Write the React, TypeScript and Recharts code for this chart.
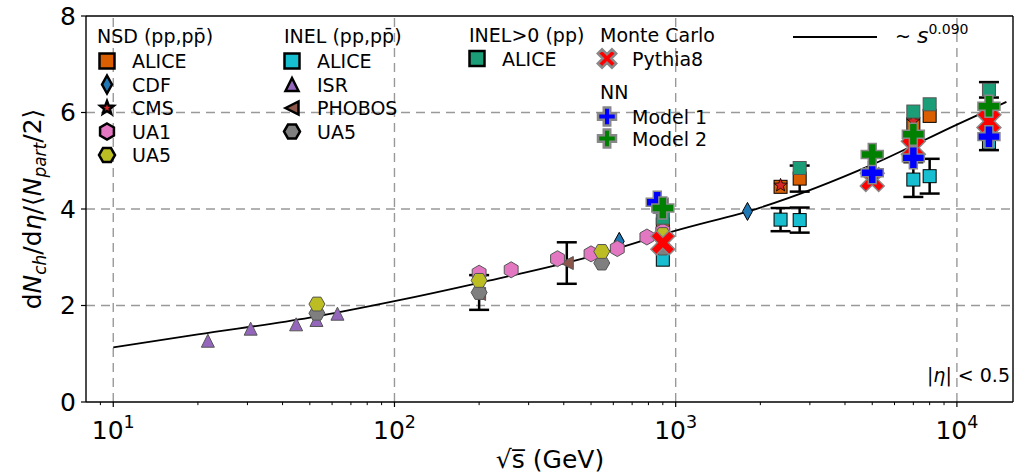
import React from 'react';
import { ComposedChart, Scatter, Line, XAxis, YAxis, ErrorBar, ReferenceLine } from 'recharts';

const W = 1025;
const H = 475;
const FONT = 'DejaVu Sans';

// axes
const X_DOMAIN = [8, 15830];
const MAJOR_X = [10, 100, 1000, 10000];
const MINOR_X = [9, 20, 30, 40, 50, 60, 70, 80, 90, 200, 300, 400, 500, 600, 700, 800, 900,
    2000, 3000, 4000, 5000, 6000, 7000, 8000, 9000];
const Y_TICKS = [0, 2, 4, 6, 8];
const GRID_Y = [2, 4, 6];
const MINOR_LEN = -0.065; // minor tick length, in y units below 0

// ~ s^0.090 curve
const fitX = [10, 20, 50, 100, 200, 500, 1000, 2000, 5000, 10000, 15000];
const fitY = [1.13, 1.40, 1.75, 2.09, 2.47, 3.02, 3.55, 4.03, 4.92, 5.75, 6.22];

// NSD (pp, ppbar)
const nsdAliceX = [900, 2360, 2760, 7000, 8000];
const nsdAliceY = [3.68, 4.46, 4.63, 5.76, 5.93];
const nsdAliceErr = [0, 0, 0.27, 0, 0];
const cdfX = [630, 1800];
const cdfY = [3.33, 3.95];
const cmsX = [2360, 7000];
const cmsY = [4.49, 5.82];
const ua1X = [200, 260, 380, 500, 620, 790, 900];
const ua1Y = [2.67, 2.74, 2.97, 3.07, 3.18, 3.42, 3.54];
const ua5NsdX = [53, 200, 546, 900];
const ua5NsdY = [2.03, 2.52, 3.12, 3.47];

// INEL (pp, ppbar)
const inelAliceX = [900, 2360, 2760, 7000, 8000, 13000];
const inelAliceY = [2.95, 3.78, 3.77, 4.61, 4.68, 5.38];
const inelAliceErr = [0, 0.24, 0.26, 0.36, 0.36, 0.16];
const isrX = [21.7, 30.8, 44.7, 52.8, 62.7];
const isrY = [1.27, 1.52, 1.61, 1.70, 1.83];
const phobosX = [200, 410];
const phobosY = [2.24, 2.88];
const phobosErr = [0, 0.43];
const ua5InelX = [53, 200, 546, 900];
const ua5InelY = [1.84, 2.27, 2.88, 3.19];
const ua5InelErr = [0, 0.36, 0, 0];

// INEL>0 (pp)
const inel0AliceX = [900, 2760, 7000, 8000, 13000];
const inel0AliceY = [3.82, 4.85, 6.02, 6.17, 6.47];
const inel0AliceErr = [0, 0, 0, 0, 0.16];

// Monte Carlo
const pythiaX = [900, 5000, 7000, 13000];
const pythiaY = [3.30, 4.61, 5.27, 5.82];

// NN
const model1X = [860, 5000, 7000, 13000];
const model1Y = [4.14, 4.75, 5.06, 5.50];
const model2X = [900, 5000, 7000, 13000];
const model2Y = [4.02, 5.13, 5.55, 6.13];

const pts = (xs: number[], ys: number[], es?: number[]) =>
    xs.map((x, i) => ({ x, y: ys[i], err: es ? es[i] : 0 }));

const fitData = pts(fitX, fitY);

type Kind = 'square' | 'diamond' | 'star' | 'hex' | 'hexFlat' | 'triUp' | 'triLeft' | 'plus' | 'cross';

function poly(cx: number, cy: number, coords: number[][]) {
    return coords.map(([a, b]) => `${cx + a},${cy + b}`).join(' ');
}

function plusCoords(L: number, t: number, rot: number) {
    const raw = [[t, -L], [t, -t], [L, -t], [L, t], [t, t], [t, L], [-t, L], [-t, t], [-L, t], [-L, -t], [-t, -t], [-t, -L]];
    const c = Math.cos(rot), s = Math.sin(rot);
    return raw.map(([a, b]) => [a * c - b * s, a * s + b * c]);
}

function Marker({ cx, cy, kind, fill, stroke, sw, s }: {
    cx: number; cy: number; kind: Kind; fill: string; stroke: string; sw: number; s: number;
}) {
    const common = { fill, stroke, strokeWidth: sw, strokeLinejoin: 'miter' as const };
    if (cx == null || cy == null) return null;
    switch (kind) {
        case 'square':
            return <rect x={cx - s} y={cy - s} width={2 * s} height={2 * s} {...common} />;
        case 'diamond':
            return <polygon points={poly(cx, cy, [[0, -s], [s * 0.55, 0], [0, s], [-s * 0.55, 0]])} {...common} />;
        case 'star': {
            const c: number[][] = [];
            for (let k = 0; k < 10; k++) {
                const r = k % 2 === 0 ? s : s * 0.42;
                const a = -Math.PI / 2 + (k * Math.PI) / 5;
                c.push([r * Math.cos(a), r * Math.sin(a)]);
            }
            return <polygon points={poly(cx, cy, c)} {...common} />;
        }
        case 'hex':
        case 'hexFlat': {
            const c: number[][] = [];
            const off = kind === 'hex' ? -Math.PI / 2 : 0;
            for (let k = 0; k < 6; k++) {
                const a = off + (k * Math.PI) / 3;
                c.push([s * Math.cos(a), s * Math.sin(a)]);
            }
            return <polygon points={poly(cx, cy, c)} {...common} />;
        }
        case 'triUp':
            return <polygon points={poly(cx, cy, [[0, -s], [-s, s], [s, s]])} {...common} />;
        case 'triLeft':
            return <polygon points={poly(cx, cy, [[-s, 0], [s, -s], [s, s]])} {...common} />;
        case 'plus':
            return <polygon points={poly(cx, cy, plusCoords(s, s * 0.36, 0))} {...common} />;
        case 'cross':
            return <polygon points={poly(cx, cy, plusCoords(s, s * 0.3, Math.PI / 4))} {...common} />;
    }
    return null;
}

interface Style { kind: Kind; fill: string; stroke: string; sw: number; s: number }

const ST: Record<string, Style> = {
    nsdAlice: { kind: 'square', fill: '#d95f02', stroke: '#000', sw: 1, s: 6.5 },
    cdf: { kind: 'diamond', fill: '#1f77b4', stroke: '#000', sw: 1, s: 9 },
    cms: { kind: 'star', fill: '#d62728', stroke: '#000', sw: 0.8, s: 7 },
    ua1: { kind: 'hex', fill: '#e377c2', stroke: '#555', sw: 1, s: 8 },
    ua5Nsd: { kind: 'hexFlat', fill: '#bcbd22', stroke: '#555', sw: 1, s: 8 },
    inelAlice: { kind: 'square', fill: '#17becf', stroke: '#000', sw: 1, s: 6.5 },
    isr: { kind: 'triUp', fill: '#9467bd', stroke: '#555', sw: 1, s: 6.5 },
    phobos: { kind: 'triLeft', fill: '#8c564b', stroke: '#555', sw: 1, s: 6.5 },
    ua5Inel: { kind: 'hexFlat', fill: '#7f7f7f', stroke: '#555', sw: 1, s: 8 },
    inel0: { kind: 'square', fill: '#1b9e77', stroke: '#555', sw: 1, s: 6.5 },
    pythia: { kind: 'cross', fill: '#ff0000', stroke: '#888', sw: 1.5, s: 13 },
    model1: { kind: 'plus', fill: '#0000ff', stroke: '#888', sw: 1.5, s: 11 },
    model2: { kind: 'plus', fill: '#008000', stroke: '#888', sw: 1.5, s: 11 },
};

const shapeOf = (st: Style) => (p: any) => (
    <Marker cx={p.cx} cy={p.cy} kind={st.kind} fill={st.fill} stroke={st.stroke} sw={st.sw} s={st.s} />
);

const PowTick = (props: any) => {
    const { x, y, payload } = props;
    const exp = Math.round(Math.log10(payload.value));
    return (
        <text x={x} y={y + 30} textAnchor="middle" fontFamily={FONT} fontSize={25} fill="#000">
            10<tspan dy={-11} fontSize={17.5}>{exp}</tspan>
        </text>
    );
};

const ERR = { stroke: '#000', strokeWidth: 2.5, width: 10 };

function LegendItem({ x, y, st, label, lw }: { x: number; y: number; st: Style; label: string; lw: number }) {
    const legSt = { ...st, sw: lw, s: st.kind === 'square' ? 7.5 : st.s };
    return (
        <g>
            <Marker cx={x} cy={y} kind={legSt.kind} fill={legSt.fill} stroke={legSt.stroke} sw={legSt.sw} s={legSt.s} />
            <text x={x + 25} y={y + 7} fontFamily={FONT} fontSize={19} fill="#000">{label}</text>
        </g>
    );
}

function Overlay() {
    const t = { fontFamily: FONT, fontSize: 19, fill: '#000' };
    const black = (st: Style) => ({ ...st, stroke: '#000' });
    const nsdRows = [
        { st: black(ST.nsdAlice), label: 'ALICE' },
        { st: black(ST.cdf), label: 'CDF' },
        { st: black(ST.cms), label: 'CMS' },
        { st: black(ST.ua1), label: 'UA1' },
        { st: black(ST.ua5Nsd), label: 'UA5' },
    ];
    const inelRows = [
        { st: black(ST.inelAlice), label: 'ALICE' },
        { st: black(ST.isr), label: 'ISR' },
        { st: black(ST.phobos), label: 'PHOBOS' },
        { st: black(ST.ua5Inel), label: 'UA5' },
    ];
    return (
        <svg width={W} height={H} style={{ position: 'absolute', left: 0, top: 0, pointerEvents: 'none' }}>
            {/* NSD */}
            <text x={97} y={43} {...t}>NSD (pp,pp{'\u0304'})</text>
            {nsdRows.map((r, i) => (
                <LegendItem key={r.label + i} x={107} y={61 + i * 23.5} st={r.st} label={r.label} lw={2.5} />
            ))}
            {/* INEL */}
            <text x={284} y={43} {...t}>INEL (pp,pp{'\u0304'})</text>
            {inelRows.map((r, i) => (
                <LegendItem key={r.label + i} x={292} y={61 + i * 23.5} st={r.st} label={r.label} lw={2.5} />
            ))}
            {/* INEL>0 */}
            <text x={469} y={42} {...t}>INEL&gt;0 (pp)</text>
            <LegendItem x={477} y={58.5} st={black(ST.inel0)} label="ALICE" lw={2.5} />
            {/* Monte Carlo */}
            <text x={600} y={42} {...t}>Monte Carlo</text>
            <LegendItem x={607} y={58.5} st={{ ...ST.pythia, s: 10, sw: 2.5 }} label="Pythia8" lw={2.5} />
            {/* NN */}
            <text x={600} y={99} {...t}>NN</text>
            <LegendItem x={607} y={116.5} st={{ ...ST.model1, s: 9 }} label="Model 1" lw={2.5} />
            <LegendItem x={607} y={138.5} st={{ ...ST.model2, s: 9 }} label="Model 2" lw={2.5} />
            {/* fit */}
            <line x1={793} x2={877} y1={37} y2={37} stroke="#000" strokeWidth={1.8} />
            <text x={895} y={43} {...t}>
                ~ <tspan fontStyle="italic" fontSize={22}>s</tspan>
                <tspan dy={-9} fontSize={14}>0.090</tspan>
            </text>
            {/* eta cut */}
            <text x={1010} y={382} textAnchor="end" {...t}>
                |<tspan fontStyle="italic">η</tspan>| &lt; 0.5
            </text>
            {/* axis labels */}
            <text transform="translate(41,209) rotate(-90)" textAnchor="middle" fontFamily={FONT} fontSize={25} fill="#000">
                d<tspan fontStyle="italic">N</tspan>
                <tspan fontStyle="italic" fontSize={17} dy={5}>ch</tspan>
                <tspan dy={-5}>/d</tspan>
                <tspan fontStyle="italic">η</tspan>
                <tspan>/⟨</tspan>
                <tspan fontStyle="italic">N</tspan>
                <tspan fontStyle="italic" fontSize={17} dy={5}>part</tspan>
                <tspan dy={-5}>/2⟩</tspan>
            </text>
            <text x={550} y={468} textAnchor="middle" fontFamily={FONT} fontSize={25} fill="#000">
                √s{'\u0305'} (GeV)
            </text>
        </svg>
    );
}

export default function App() {
    const series: { key: string; data: any[]; st: Style; err?: boolean }[] = [
        { key: 'inelAlice', data: pts(inelAliceX, inelAliceY, inelAliceErr), st: ST.inelAlice, err: true },
        { key: 'isr', data: pts(isrX, isrY), st: ST.isr },
        { key: 'phobos', data: pts(phobosX, phobosY, phobosErr), st: ST.phobos, err: true },
        { key: 'ua5Inel', data: pts(ua5InelX, ua5InelY, ua5InelErr), st: ST.ua5Inel, err: true },
        { key: 'nsdAlice', data: pts(nsdAliceX, nsdAliceY, nsdAliceErr), st: ST.nsdAlice, err: true },
        { key: 'cdf', data: pts(cdfX, cdfY), st: ST.cdf },
        { key: 'cms', data: pts(cmsX, cmsY), st: ST.cms },
        { key: 'ua1', data: pts(ua1X, ua1Y), st: ST.ua1 },
        { key: 'ua5Nsd', data: pts(ua5NsdX, ua5NsdY), st: ST.ua5Nsd },
        { key: 'inel0', data: pts(inel0AliceX, inel0AliceY, inel0AliceErr), st: ST.inel0, err: true },
        { key: 'pythia', data: pts(pythiaX, pythiaY), st: ST.pythia },
        { key: 'model1', data: pts(model1X, model1Y), st: ST.model1 },
        { key: 'model2', data: pts(model2X, model2Y), st: ST.model2 },
    ];

    return (
        <div style={{ position: 'relative', width: W, height: H, background: '#fff' }}>
            <style>{'body{margin:0}'}</style>
            <ComposedChart width={W} height={H} margin={{ top: 15, right: 11, bottom: 72, left: 85 }}>
                <XAxis dataKey="x" type="number" scale="log" domain={X_DOMAIN} allowDataOverflow
                    ticks={MAJOR_X} interval={0} tick={<PowTick />} tickSize={5} height={1}
                    axisLine={{ stroke: '#000', strokeWidth: 1.4 }} tickLine={{ stroke: '#000', strokeWidth: 1.2 }} />
                <XAxis xAxisId="top" orientation="top" type="number" scale="log" domain={X_DOMAIN} allowDataOverflow
                    ticks={MAJOR_X} tick={false} tickLine={false} height={1}
                    axisLine={{ stroke: '#000', strokeWidth: 1.4 }} />
                <YAxis dataKey="y" type="number" domain={[0, 8]} allowDataOverflow ticks={Y_TICKS} interval={0}
                    width={1} tickSize={5} tickMargin={5}
                    tick={{ fontFamily: FONT, fontSize: 25, fill: '#000' }}
                    axisLine={{ stroke: '#000', strokeWidth: 1.4 }} tickLine={{ stroke: '#000', strokeWidth: 1.2 }} />
                <YAxis yAxisId="right" orientation="right" type="number" domain={[0, 8]} allowDataOverflow
                    width={1} tick={false} tickLine={false} axisLine={{ stroke: '#000', strokeWidth: 1.4 }} />

                {MAJOR_X.map((v) => (
                    <ReferenceLine key={'gx' + v} x={v} stroke="#999" strokeWidth={1.4} strokeDasharray="9 6" />
                ))}
                {GRID_Y.map((v) => (
                    <ReferenceLine key={'gy' + v} y={v} stroke="#999" strokeWidth={1.4} strokeDasharray="9 6" />
                ))}
                {MINOR_X.map((v) => (
                    <ReferenceLine key={'mx' + v} segment={[{ x: v, y: 0 }, { x: v, y: MINOR_LEN }]}
                        ifOverflow="visible" stroke="#000" strokeWidth={1} />
                ))}

                <Line data={fitData} dataKey="y" type="monotone" dot={false} stroke="#000" strokeWidth={1.8}
                    isAnimationActive={false} />

                {series.map((s) => (
                    <Scatter key={s.key} data={s.data} dataKey="y" shape={shapeOf(s.st)} isAnimationActive={false}>
                        {s.err ? <ErrorBar dataKey="err" direction="y" {...ERR} /> : null}
                    </Scatter>
                ))}
            </ComposedChart>
            <Overlay />
        </div>
    );
}
